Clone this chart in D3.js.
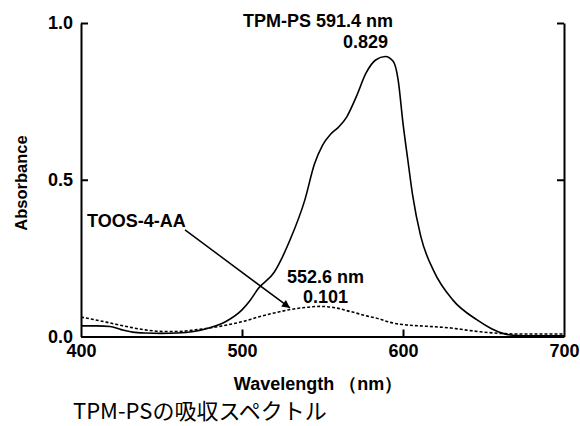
<!DOCTYPE html>
<html>
<head>
<meta charset="utf-8">
<script src="https://cdn.jsdelivr.net/npm/d3@7"></script>
<style>
  body { margin: 0; background: #fff; }
  svg { display: block; }
</style>
</head>
<body>
<div id="chart"></div>
<script>
// Spectrum of TPM-PS (solid line)
const tpmWave = [400, 410, 418, 425, 432, 440, 450, 460, 470, 480, 490, 500, 505, 510, 520, 530, 539, 545, 550, 555, 560, 565, 571, 577, 583, 589, 594, 597, 600, 603, 606, 611, 619, 631, 646, 655, 662, 668, 680, 700];
const tpmAbs  = [0.034, 0.034, 0.032, 0.022, 0.014, 0.011, 0.010, 0.011, 0.016, 0.028, 0.048, 0.085, 0.115, 0.152, 0.205, 0.31, 0.435, 0.55, 0.61, 0.645, 0.668, 0.70, 0.765, 0.84, 0.882, 0.893, 0.877, 0.818, 0.68, 0.563, 0.45, 0.32, 0.21, 0.116, 0.053, 0.025, 0.01, 0.004, 0.002, 0.002];

// Spectrum of TOOS-4-AA (dotted line)
const toosWave = [400, 410, 419, 430, 440, 452, 460, 471, 481, 491, 500, 510, 520, 530, 540, 548, 555, 567, 578, 586, 592, 600, 610, 620, 630, 640, 648, 660, 670, 700];
const toosAbs  = [0.062, 0.052, 0.042, 0.030, 0.021, 0.016, 0.016, 0.021, 0.028, 0.037, 0.047, 0.062, 0.075, 0.086, 0.093, 0.096, 0.094, 0.080, 0.065, 0.055, 0.045, 0.038, 0.034, 0.031, 0.027, 0.020, 0.015, 0.010, 0.008, 0.008];

const xTicks = [400, 500, 600, 700];
const yTicks = [0, 0.5, 1.0];

const width = 580;
const height = 426;
const margin = { top: 23, right: 16, bottom: 89.5, left: 81 };

const font = "'Liberation Sans', Arial, Helvetica, sans-serif";

const x = d3.scaleLinear()
    .domain([400, 700])
    .range([margin.left, width - margin.right]);

const y = d3.scaleLinear()
    .domain([0, 1])
    .range([height - margin.bottom, margin.top]);

const svg = d3.select("#chart").append("svg")
    .attr("width", width)
    .attr("height", height)
    .style("font-family", font);

// Axes: left, right and bottom, ticks pointing inward
function styleAxis(g) {
    g.select(".domain").attr("stroke", "#000").attr("stroke-width", 2);
    g.selectAll(".tick line").attr("stroke", "#000").attr("stroke-width", 2);
    g.selectAll(".tick text")
        .attr("fill", "#000")
        .style("font-family", font)
        .style("font-size", "18px")
        .style("font-weight", "bold");
}

svg.append("g")
    .attr("transform", `translate(${margin.left},0)`)
    .call(d3.axisLeft(y).tickValues(yTicks).tickFormat(d3.format(".1f"))
        .tickSizeInner(-7).tickSizeOuter(0).tickPadding(8))
    .call(styleAxis);

svg.append("g")
    .attr("transform", `translate(${width - margin.right},0)`)
    .call(d3.axisRight(y).tickValues(yTicks).tickFormat("")
        .tickSizeInner(-7).tickSizeOuter(0))
    .call(styleAxis);

svg.append("g")
    .attr("transform", `translate(0,${height - margin.bottom})`)
    .call(d3.axisBottom(x).tickValues(xTicks).tickFormat(d3.format("d"))
        .tickSizeInner(-7).tickSizeOuter(0).tickPadding(8))
    .call(styleAxis)
    .call(g => g.selectAll(".tick line").filter(d => d === 400 || d === 700).remove());

// Axis titles
svg.append("text")
    .attr("x", 318)
    .attr("y", 390)
    .attr("text-anchor", "middle")
    .style("font-size", "18px")
    .style("font-weight", "bold")
    .text("Wavelength （nm）");

svg.append("text")
    .attr("transform", `translate(27,${183}) rotate(-90)`)
    .attr("text-anchor", "middle")
    .style("font-size", "16.5px")
    .style("font-weight", "bold")
    .text("Absorbance");

// Curves
const line = d3.line()
    .x(d => x(d[0]))
    .y(d => y(d[1]))
    .curve(d3.curveMonotoneX);

svg.append("path")
    .datum(d3.zip(tpmWave, tpmAbs))
    .attr("fill", "none")
    .attr("stroke", "#000")
    .attr("stroke-width", 1.6)
    .attr("d", line);

svg.append("path")
    .datum(d3.zip(toosWave, toosAbs))
    .attr("fill", "none")
    .attr("stroke", "#000")
    .attr("stroke-width", 1.6)
    .attr("stroke-dasharray", "3,2")
    .attr("d", line);

// Annotations
svg.append("defs").append("marker")
    .attr("id", "arrow")
    .attr("viewBox", "0 0 10 10")
    .attr("refX", 10)
    .attr("refY", 5)
    .attr("markerWidth", 9)
    .attr("markerHeight", 8)
    .attr("markerUnits", "userSpaceOnUse")
    .attr("orient", "auto")
    .append("path")
    .attr("d", "M0,0L10,5L0,10z")
    .attr("fill", "#000");

svg.append("line")
    .attr("x1", x(464.6)).attr("y1", y(0.34))
    .attr("x2", x(529.8)).attr("y2", y(0.091))
    .attr("stroke", "#000")
    .attr("stroke-width", 1.5)
    .attr("marker-end", "url(#arrow)");

const notes = svg.append("g")
    .style("font-size", "18px")
    .style("font-weight", "bold");

notes.append("text").attr("x", 393).attr("y", 27).attr("text-anchor", "end").text("TPM-PS 591.4 nm");
notes.append("text").attr("x", 388).attr("y", 48).attr("text-anchor", "end").text("0.829");
notes.append("text").attr("x", 87).attr("y", 227).text("TOOS-4-AA");
notes.append("text").attr("x", 287).attr("y", 283).text("552.6 nm");
notes.append("text").attr("x", 303).attr("y", 303).text("0.101");

// Caption
svg.append("text")
    .attr("x", 73)
    .attr("y", 419)
    .style("font-family", "'Noto Sans CJK JP', 'Noto Sans', sans-serif")
    .style("font-size", "22px")
    .text("TPM-PSの吸収スペクトル");
</script>
</body>
</html>
